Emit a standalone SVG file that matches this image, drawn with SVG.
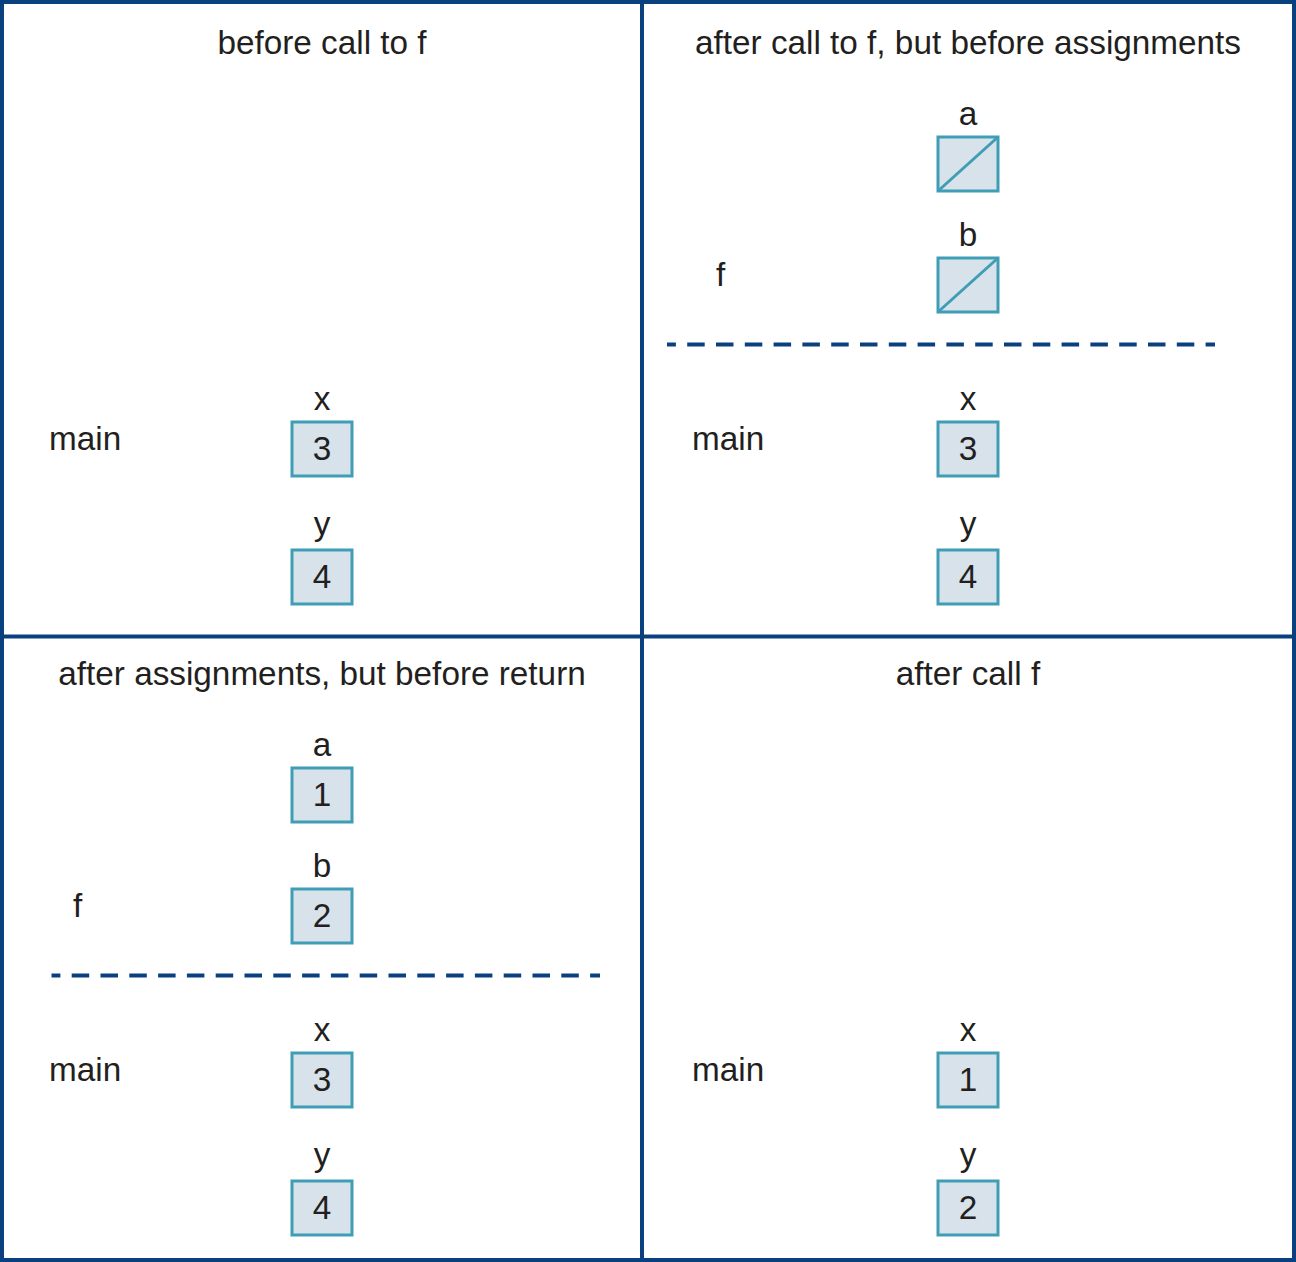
<svg xmlns="http://www.w3.org/2000/svg" width="1296" height="1262" viewBox="0 0 1296 1262">
<style>
text{font-family:"Liberation Sans",Arial,Helvetica,sans-serif;font-size:33.3px;fill:#231f20}
.c{text-anchor:middle}
.box{fill:#d7e2ea;stroke:#3f9db5;stroke-width:3}
.diag{stroke:#3f9db5;stroke-width:3}
.frame{fill:none;stroke:#0a4080;stroke-width:4}
.dash{stroke:#0a4080;stroke-width:4;stroke-dasharray:17.5 11.3;stroke-dashoffset:8.6}
</style>
<rect x="0" y="0" width="1296" height="1262" fill="#ffffff"/>
<g id="frame">
<rect class="frame" x="2" y="2" width="1292" height="1258"/>
<line class="frame" x1="642" y1="0" x2="642" y2="1262"/>
<line class="frame" x1="0" y1="636.5" x2="1296" y2="636.5"/>
</g>
<g id="connectors">
<line class="dash" x1="667" y1="344.5" x2="1215" y2="344.5"/>
<line class="dash" x1="51.5" y1="975.5" x2="600" y2="975.5"/>
</g>
<g id="panel1">
<text class="c" x="322" y="54">before call to f</text>
<text x="49" y="450">main</text>
<g id="p1x"><text class="c" x="322" y="410">x</text><rect class="box" x="292" y="422" width="60" height="54"/><text class="c" x="322" y="460">3</text></g>
<g id="p1y"><text class="c" x="322" y="535">y</text><rect class="box" x="292" y="550" width="60" height="54"/><text class="c" x="322" y="588">4</text></g>
</g>
<g id="panel2">
<text class="c" x="968" y="54">after call to f, but before assignments</text>
<text x="716" y="286">f</text>
<g id="p2a"><text class="c" x="968" y="125">a</text><rect class="box" x="938" y="137" width="60" height="54"/><line class="diag" x1="938" y1="191" x2="998" y2="137"/></g>
<g id="p2b"><text class="c" x="968" y="246">b</text><rect class="box" x="938" y="258" width="60" height="54"/><line class="diag" x1="938" y1="312" x2="998" y2="258"/></g>
<text x="692" y="450">main</text>
<g id="p2x"><text class="c" x="968" y="410">x</text><rect class="box" x="938" y="422" width="60" height="54"/><text class="c" x="968" y="460">3</text></g>
<g id="p2y"><text class="c" x="968" y="535">y</text><rect class="box" x="938" y="550" width="60" height="54"/><text class="c" x="968" y="588">4</text></g>
</g>
<g id="panel3">
<text class="c" x="322" y="685">after assignments, but before return</text>
<text x="73" y="917">f</text>
<g id="p3a"><text class="c" x="322" y="756">a</text><rect class="box" x="292" y="768" width="60" height="54"/><text class="c" x="322" y="806">1</text></g>
<g id="p3b"><text class="c" x="322" y="877">b</text><rect class="box" x="292" y="889" width="60" height="54"/><text class="c" x="322" y="927">2</text></g>
<text x="49" y="1081">main</text>
<g id="p3x"><text class="c" x="322" y="1041">x</text><rect class="box" x="292" y="1053" width="60" height="54"/><text class="c" x="322" y="1091">3</text></g>
<g id="p3y"><text class="c" x="322" y="1166">y</text><rect class="box" x="292" y="1181" width="60" height="54"/><text class="c" x="322" y="1219">4</text></g>
</g>
<g id="panel4">
<text class="c" x="968" y="685">after call f</text>
<text x="692" y="1081">main</text>
<g id="p4x"><text class="c" x="968" y="1041">x</text><rect class="box" x="938" y="1053" width="60" height="54"/><text class="c" x="968" y="1091">1</text></g>
<g id="p4y"><text class="c" x="968" y="1166">y</text><rect class="box" x="938" y="1181" width="60" height="54"/><text class="c" x="968" y="1219">2</text></g>
</g>
</svg>
